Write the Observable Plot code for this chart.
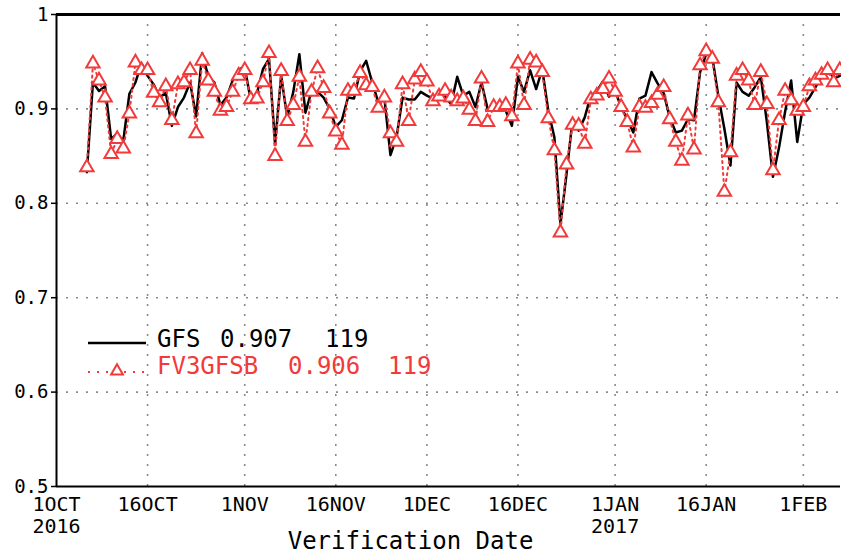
<!DOCTYPE html>
<html><head><meta charset="utf-8">
<script src="https://cdn.jsdelivr.net/npm/d3@7"></script>
<script src="https://cdn.jsdelivr.net/npm/@observablehq/plot@0.6"></script>
<style>body{margin:0;background:#fff}</style>
</head><body><div id="chart"></div>
<script>
// ---- data ----
const startDate = Date.UTC(2016, 9, 6); // first verification date
const gfs = [
 0.833,0.928,0.919,0.924,0.868,0.874,0.866,0.916,0.928,0.948,
 0.935,0.926,0.912,0.917,0.882,0.902,0.912,0.928,0.892,0.959,
 0.934,0.928,0.904,0.912,0.930,0.942,0.944,0.909,0.916,0.942,
 0.953,0.863,0.935,0.891,0.918,0.958,0.896,0.919,0.918,0.912,
 0.900,0.881,0.888,0.912,0.911,0.940,0.951,0.928,0.907,0.912,
 0.851,0.870,0.912,0.910,0.910,0.918,0.914,0.911,0.912,0.913,
 0.905,0.934,0.914,0.918,0.902,0.928,0.900,0.901,0.902,0.898,
 0.882,0.934,0.918,0.941,0.921,0.942,0.898,0.870,0.778,0.831,
 0.889,0.877,0.891,0.914,0.919,0.929,0.913,0.919,0.902,0.889,
 0.875,0.911,0.914,0.939,0.927,0.917,0.891,0.875,0.877,0.889,
 0.888,0.939,0.958,0.955,0.914,0.879,0.840,0.928,0.918,0.914,
 0.923,0.934,0.886,0.828,0.859,0.897,0.930,0.865,0.905,0.912,
 0.923,0.934,0.946,0.932,0.935
];
const fv3 = [
 0.838,0.948,0.930,0.912,0.852,0.868,0.858,0.895,0.949,0.941,
 0.941,0.917,0.907,0.924,0.888,0.926,0.928,0.941,0.874,0.951,
 0.930,0.918,0.898,0.902,0.918,0.935,0.941,0.910,0.911,0.928,
 0.959,0.850,0.940,0.887,0.904,0.934,0.865,0.918,0.943,0.922,
 0.895,0.876,0.862,0.919,0.919,0.938,0.925,0.923,0.901,0.912,
 0.874,0.865,0.926,0.887,0.931,0.939,0.929,0.908,0.913,0.919,
 0.912,0.908,0.911,0.899,0.887,0.932,0.886,0.902,0.902,0.904,
 0.892,0.948,0.904,0.952,0.949,0.939,0.890,0.856,0.769,0.841,
 0.883,0.882,0.863,0.910,0.914,0.921,0.932,0.918,0.902,0.886,
 0.859,0.902,0.901,0.906,0.915,0.923,0.889,0.865,0.845,0.893,
 0.857,0.946,0.961,0.953,0.907,0.812,0.854,0.935,0.941,0.930,
 0.904,0.939,0.905,0.835,0.888,0.919,0.909,0.898,0.902,0.924,
 0.930,0.936,0.941,0.928,0.941
];
const tickDates = ["2016-10-01","2016-10-16","2016-11-01","2016-11-16","2016-12-01","2016-12-16","2017-01-01","2017-01-16","2017-02-01"];
const tickLabels = ["1OCT\n2016","16OCT","1NOV","16NOV","1DEC","16DEC","1JAN\n2017","16JAN","1FEB"];
const yTicks = [0.5,0.6,0.7,0.8,0.9,1];
const yTickLabels = ["0.5","0.6","0.7","0.8","0.9","1"];
const seriesNames = ["GFS","FV3GFSB"];
const seriesMeans = ["0.907","0.906"];
const seriesCounts = ["119","119"];
const xLabel = "Verification Date";

// ---- build ----
const DAY = 86400000;
const gfsRows = gfs.map((v,i)=>({date:new Date(startDate+i*DAY), v}));
const fv3Rows = fv3.map((v,i)=>({date:new Date(startDate+i*DAY), v}));
const ticks = tickDates.map(s=>new Date(s+"T00:00Z"));
const fmtX = d => tickLabels[ticks.findIndex(t=>+t===+d)];
const fmtY = d => yTickLabels[yTicks.findIndex(t=>Math.abs(t-d)<1e-9)];
const xDomain = [ticks[0], new Date(Date.UTC(2017,1,7,3))];
const RED = "#f23a3a";
const FONT = "DejaVu Sans Mono";
const grid = {stroke:"#8a8a8a", strokeOpacity:1, strokeDasharray:"2,8", strokeWidth:1.6};

const chart = Plot.plot({
  width: 841, height: 560,
  marginLeft: 56, marginRight: 1, marginTop: 14, marginBottom: 74,
  style: {fontFamily: FONT, background: "white", color: "black"},
  x: {type: "utc", domain: xDomain},
  y: {domain: [0.5, 1]},
  marks: [
    Plot.gridY([0.6,0.7,0.8,0.9], grid),
    Plot.gridX(ticks.slice(1), grid),
    Plot.ruleY([1], {stroke:"black", strokeWidth:3}),
    Plot.ruleY([0.5], {stroke:"black", strokeWidth:2}),
    Plot.ruleX([xDomain[0]], {stroke:"black", strokeWidth:2}),
    Plot.axisY(yTicks, {tickSize:5, tickFormat:fmtY, fontSize:19, tickPadding:3, label:null, strokeWidth:1.5}),
    Plot.axisX(ticks, {tickSize:0, tickFormat:fmtX, fontSize:20, tickPadding:9, lineHeight:1.1, label:null}),
    Plot.text([xLabel], {frameAnchor:"bottom", dy:62, dx:-38, fontSize:24, fill:"black"}),
    Plot.line(gfsRows, {x:"date", y:"v", stroke:"black", strokeWidth:2.5}),
    Plot.line(fv3Rows, {x:"date", y:"v", stroke:RED, strokeWidth:2, strokeDasharray:"2,4"}),
    Plot.dot(fv3Rows, {x:"date", y:"v", symbol:"triangle", r:5, stroke:RED, fill:"white", strokeWidth:2})
  ]
});
document.getElementById("chart").append(chart);

// ---- legend (drawn into the same svg) ----
const svg = d3.select(chart);
const lg = svg.append("g").attr("font-family", FONT).attr("font-size", 24).attr("text-anchor","start");
lg.append("line").attr("x1",88).attr("x2",146).attr("y1",343).attr("y2",343)
  .attr("stroke","black").attr("stroke-width",2.5);
lg.append("line").attr("x1",88).attr("x2",146).attr("y1",372).attr("y2",372)
  .attr("stroke",RED).attr("stroke-width",2).attr("stroke-dasharray","2,7");
lg.append("path").attr("d", d3.symbol(d3.symbolTriangle, 60)()).attr("transform","translate(117,371)")
  .attr("fill","white").attr("stroke",RED).attr("stroke-width",2);
const cols = [[157,220,325],[157,288,388]];
const ys = [347,374];
const colors = ["black", RED];
seriesNames.forEach((n,i)=>{
  const parts = [n, seriesMeans[i], seriesCounts[i]];
  parts.forEach((p,j)=>{
    lg.append("text").attr("x", cols[i][j]).attr("y", ys[i]).attr("fill", colors[i]).text(p);
  });
});
</script>
</body></html>
